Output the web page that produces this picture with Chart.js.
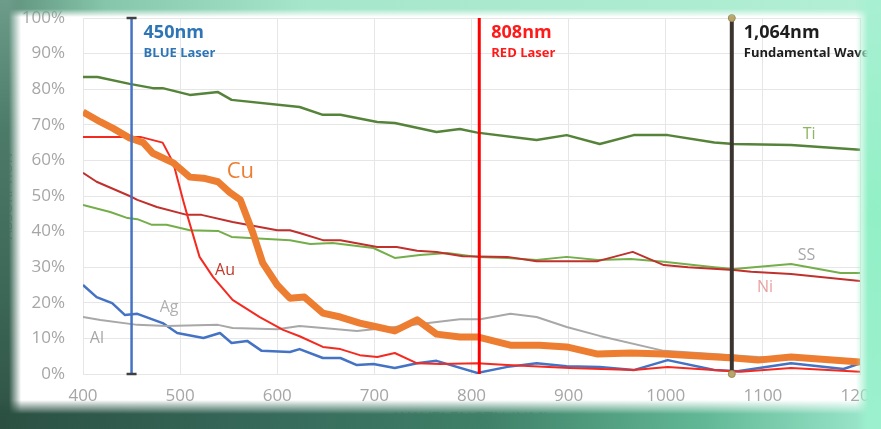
<!DOCTYPE html>
<html>
<head>
<meta charset="utf-8">
<script src="https://cdn.jsdelivr.net/npm/chart.js"></script>
<style>
  html, body { margin: 0; padding: 0; }
  body { width: 881px; height: 429px; position: relative; overflow: hidden; background: #fff; }
  #chart { position: absolute; left: 0; top: 0; }
  .edge { position: absolute; pointer-events: none; }
  #eTop {
    left: 0; top: 0; width: 881px; height: 20px;
    background: linear-gradient(to right, #5d8e7b 0%, #86c6aa 12%, #a6e6cb 35%, #b2efd5 100%);
    -webkit-mask-image: linear-gradient(to bottom, #000 0, #000 9px, transparent 17px);
  }
  #eLeft {
    left: 0; top: 0; width: 22px; height: 429px;
    background: linear-gradient(to bottom, #6e9c8a 0%, #4d7b69 30%, #3c6656 70%, #2e5244 100%);
    -webkit-mask-image: linear-gradient(to right, #000 0, #000 9px, transparent 21px);
  }
  #eBottom {
    left: 0; top: 400px; width: 881px; height: 29px;
    background: linear-gradient(to right, #2b5042 0%, #36695a 30%, #3f8068 55%, #62b896 80%, #9fead0 100%);
    -webkit-mask-image: linear-gradient(to bottom, transparent 0, #000 14px, #000 100%);
  }
  #eRight {
    left: 856px; top: 0; width: 25px; height: 429px;
    background: linear-gradient(to bottom, #a8f0d2 0%, #92f0c6 50%, #9cf0ce 100%);
    -webkit-mask-image: linear-gradient(to right, transparent 0, #000 12px, #000 100%);
  }
</style>
</head>
<body>
<canvas id="chart" width="881" height="429"></canvas>
<div class="edge" id="eTop"></div>
<div class="edge" id="eLeft"></div>
<div class="edge" id="eBottom"></div>
<div class="edge" id="eRight"></div>
<script>
// wavelength (nm) / absorption (%) per metal
const tiNm  = [400, 415, 448, 472, 482, 510, 539, 553, 623, 647, 665, 703, 721, 764, 788, 806, 867, 898, 932, 967, 1002, 1050, 1070, 1129, 1200];
const tiAbs = [83.4, 83.4, 81.5, 80.3, 80.3, 78.4, 79.2, 77, 75, 72.8, 72.8, 70.8, 70.5, 68, 68.8, 67.8, 65.7, 67.1, 64.6, 67.1, 67.1, 65, 64.6, 64.3, 63];

const ssNm  = [400, 428, 446, 456, 471, 486, 510, 539, 553, 613, 634, 657, 699, 721, 747, 775, 806, 837, 867, 898, 930, 964, 998, 1050, 1070, 1129, 1180, 1200];
const ssAbs = [47.5, 45.5, 43.8, 43.5, 41.9, 41.9, 40.4, 40.2, 38.5, 37.6, 36.5, 36.8, 35.4, 32.6, 33.4, 34, 32.9, 32.6, 32, 32.9, 32, 32.3, 31.5, 30, 29.5, 30.9, 28.4, 28.4];

const niNm  = [400, 414, 448, 456, 476, 507, 522, 554, 600, 613, 623, 647, 665, 703, 723, 744, 764, 791, 837, 867, 930, 966, 998, 1023, 1070, 1088, 1129, 1200];
const niAbs = [56.5, 54, 50, 48.9, 46.9, 44.7, 44.7, 42.7, 40.4, 40.4, 39.6, 37.6, 37.6, 35.7, 35.7, 34.6, 34.3, 33.1, 32.9, 31.7, 31.7, 34.3, 30.6, 30, 29.2, 28.7, 28.1, 26.1];

const auNm  = [400, 448, 459, 482, 493, 503, 508, 520, 534, 554, 582, 606, 623, 647, 665, 685, 703, 721, 744, 768, 806, 837, 901, 967, 1002, 1077, 1129, 1200];
const auAbs = [66.6, 66.6, 66.6, 65, 59.3, 48.9, 44, 32.9, 27.2, 20.8, 16, 12.4, 10.6, 7.6, 7, 5.3, 4.8, 5.9, 3, 2.8, 3, 2.5, 1.7, 1.1, 2, 0.6, 1.7, 0.6];

const cuNm  = [400, 418, 431, 448, 462, 472, 493, 510, 524, 539, 551, 562, 575, 585, 600, 613, 628, 647, 665, 685, 703, 721, 744, 764, 788, 806, 840, 870, 898, 930, 964, 998, 1070, 1095, 1129, 1200];
const cuAbs = [73.6, 70.8, 69, 66.3, 65, 62, 59.3, 55.3, 55, 54, 51, 48.9, 39.6, 31.2, 25, 21.3, 21.6, 17.1, 16, 14.3, 13.2, 12.1, 15.2, 11.2, 10.4, 10.4, 8.1, 8.1, 7.6, 5.6, 5.9, 5.6, 4.5, 3.9, 4.8, 3.4];

const agNm  = [400, 418, 456, 486, 539, 554, 600, 623, 647, 682, 721, 788, 809, 840, 867, 898, 932, 998, 1095, 1200];
const agAbs = [16, 15.2, 13.8, 13.5, 13.8, 12.9, 12.6, 13.5, 12.9, 12.1, 13.2, 15.4, 15.4, 16.9, 16, 13.2, 10.7, 6.5, 4.8, 3.7];

const alNm  = [400, 414, 430, 443, 456, 482, 497, 524, 541, 553, 569, 584, 613, 623, 647, 665, 682, 699, 721, 744, 764, 806, 837, 867, 898, 932, 967, 1002, 1050, 1074, 1129, 1183, 1200];
const alAbs = [25, 21.6, 19.9, 16.6, 16.9, 14.3, 11.5, 10.1, 11.5, 8.7, 9.3, 6.5, 6.2, 7, 4.5, 4.5, 2.5, 2.8, 1.7, 3, 3.7, 0.3, 2, 3, 2.2, 2, 1.1, 3.9, 1.1, 0.8, 3, 1.4, 3];

// laser wavelengths (where the vertical markers sit)
const laserNm = [450, 808, 1068];
const laserTitles = ["450nm", "808nm", "1,064nm"];
const laserSubs = ["BLUE Laser", "RED Laser", "Fundamental Wavelength"];

const xTicks = [400, 500, 600, 700, 800, 900, 1000, 1100, 1200];

const toPoints = (nm, abs) => nm.map((x, i) => ({ x, y: abs[i] }));
const vLine = (nm) => [{ x: nm, y: 0 }, { x: nm, y: 100 }];

// text next to the curves (data units)
const curveNotes = [
  { text: "Cu", nm: 548, abs: 55.1, color: "#ED7D31", font: "22px 'Open Sans'" },
  { text: "Au", nm: 536, abs: 27.8, color: "#C0392B", font: "16px 'Open Sans'" },
  { text: "Ag", nm: 479, abs: 17.4, color: "#B0B0B0", font: "16px 'Open Sans'" },
  { text: "Al", nm: 407, abs: 8.7, color: "#A6A6A6", font: "16px 'Open Sans'" },
  { text: "Ti", nm: 1141, abs: 66.0, color: "#8DB65E", font: "16px 'Open Sans'" },
  { text: "SS", nm: 1136, abs: 32.0, color: "#A6A6A6", font: "16px 'Open Sans'" },
  { text: "Ni", nm: 1094, abs: 23.0, color: "#E8A2A2", font: "16px 'Open Sans'" },
];
const laserColors = ["#2E75B6", "#FF1A1A", "#1E1E1E"];

const notesPlugin = {
  id: "notes",
  afterDatasetsDraw(chart) {
    const { ctx, scales: { x, y } } = chart;
    ctx.save();
    ctx.textAlign = "left";
    ctx.textBaseline = "alphabetic";
    curveNotes.forEach((n) => {
      ctx.font = n.font;
      ctx.fillStyle = n.color;
      ctx.fillText(n.text, x.getPixelForValue(n.nm), y.getPixelForValue(n.abs));
    });
    laserNm.forEach((nm, i) => {
      const px = x.getPixelForValue(nm) + 12;
      ctx.fillStyle = laserColors[i];
      ctx.font = "bold 18px 'Open Sans'";
      ctx.fillText(laserTitles[i], px, 38);
      ctx.font = "bold 13px 'Open Sans'";
      ctx.fillText(laserSubs[i], px, 57);
    });
    ctx.restore();
  },
};

const metal = (label, nm, abs, color, width) => ({
  label,
  data: toPoints(nm, abs),
  borderColor: color,
  borderWidth: width,
  pointRadius: 0,
  tension: 0,
  borderJoinStyle: "round",
});

new Chart(document.getElementById("chart").getContext("2d"), {
  type: "line",
  data: {
    datasets: [
      { label: "1064", data: vLine(laserNm[2]), borderColor: "#3a3330", borderWidth: 4, pointRadius: 3.5,
        pointBackgroundColor: "#b9a66c", pointBorderColor: "#9c8a55", pointBorderWidth: 1, clip: false },
      { label: "808", data: vLine(laserNm[1]), borderColor: "#FF0000", borderWidth: 3, pointRadius: 0, clip: false },
      { label: "450", data: vLine(laserNm[0]), borderColor: "#4472C4", borderWidth: 2.5, pointStyle: "line",
        pointRadius: 5, pointBorderColor: "#404040", pointBorderWidth: 2.5, clip: false },
      metal("Cu", cuNm, cuAbs, "#ED7D31", 7),
      metal("Au", auNm, auAbs, "#F42A20", 2),
      metal("Ni", niNm, niAbs, "#C0302C", 2),
      metal("SS", ssNm, ssAbs, "#74AE4A", 2),
      metal("Ti", tiNm, tiAbs, "#56833A", 2.5),
      metal("Ag", agNm, agAbs, "#A8A8A8", 2),
      metal("Al", alNm, alAbs, "#4472C4", 2.5),
    ],
  },
  options: {
    responsive: false,
    animation: false,
    devicePixelRatio: 1,
    layout: { padding: { left: 0, top: 18, right: 21, bottom: 0 } },
    plugins: { legend: { display: false }, tooltip: { enabled: false } },
    scales: {
      x: {
        type: "linear",
        min: 400,
        max: 1200,
        afterFit: (scale) => { scale.height = 55; scale.paddingLeft = 0; scale.paddingRight = 0; },
        afterBuildTicks: (scale) => { scale.ticks = xTicks.map((v) => ({ value: v })); },
        grid: { color: "#E6E6E6", drawTicks: false },
        border: { color: "#E6E6E6" },
        ticks: { color: "#A6A6A6", font: { family: "'Open Sans'", size: 17 }, padding: 12,
          callback: (v) => String(v) },
        title: { display: true, text: "WAVELENGTH (NM)", color: "#A6A6A6",
          font: { family: "'Open Sans'", size: 17 }, padding: { top: 0, bottom: 0 } },
      },
      y: {
        min: 0,
        max: 100,
        afterFit: (scale) => { scale.width = 83; scale.paddingTop = 0; scale.paddingBottom = 0; },
        grid: { color: "#E6E6E6", drawTicks: false },
        border: { color: "#E6E6E6" },
        ticks: { stepSize: 10, color: "#A6A6A6", font: { family: "'Open Sans'", size: 17 }, padding: 18,
          callback: (v) => v + "%" },
        title: { display: true, text: "ABSORPTION", color: "#A6A6A6",
          font: { family: "'Open Sans'", size: 14 }, padding: { top: 0, bottom: 0 } },
      },
    },
  },
  plugins: [notesPlugin],
});
</script>
</body>
</html>
